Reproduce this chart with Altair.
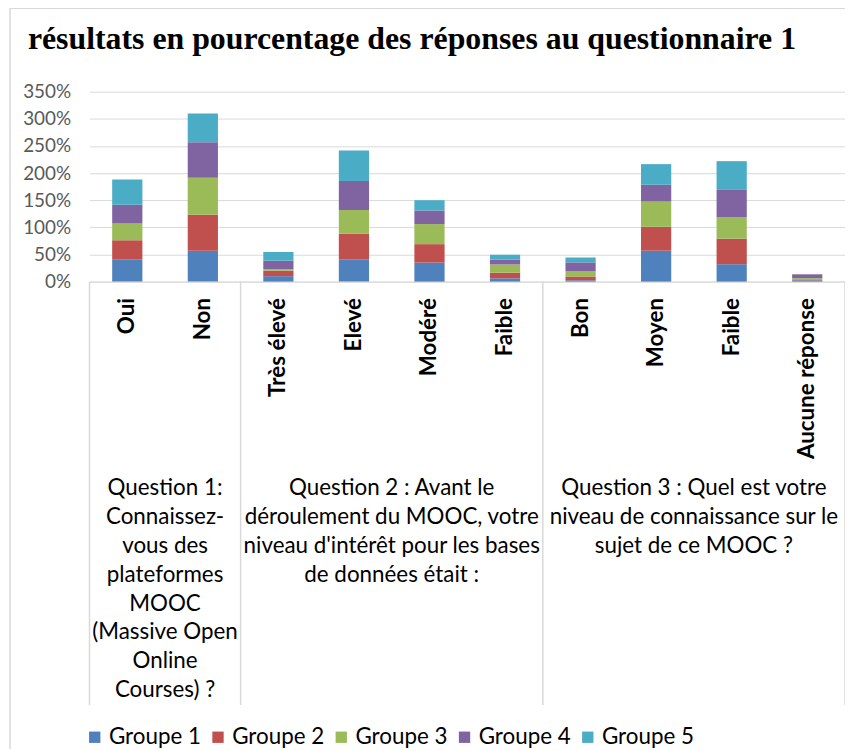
import altair as alt
import pandas as pd

# ---- data (percent values) ----
categories = ["Oui", "Non", "Très élevé", "Elevé", "Modéré", "Faible",
              "Bon", "Moyen", "Faible|3", "Aucune réponse"]
groups = ["Groupe 1", "Groupe 2", "Groupe 3", "Groupe 4", "Groupe 5"]
groupe1 = [41, 57, 10, 41, 35, 6, 2.4, 57, 32, 2.4]
groupe2 = [35, 66, 10, 47, 34, 10.5, 7, 44, 47, 0.5]
groupe3 = [31, 68.5, 3, 44, 37, 15, 10, 46.5, 40, 3.5]
groupe4 = [34.5, 65.5, 15.5, 53.5, 25, 9, 16, 31, 50, 7]
groupe5 = [46.5, 53, 16, 56, 19, 9, 9, 38, 53, 0]
colors = ["#4F81BD", "#C0504D", "#9BBB59", "#8064A2", "#4BACC6"]

question_anchor = ["Oui", "Elevé", "Moyen"]
question_text = [
    "Question 1:\nConnaissez-\nvous des\nplateformes\nMOOC\n(Massive Open\nOnline\nCourses) ?",
    "Question 2 : Avant le\ndéroulement du MOOC, votre\nniveau d'intérêt pour les bases\nde données était :",
    "Question 3 : Quel est votre\nniveau de connaissance sur le\nsujet de ce MOOC ?",
]
group_starts = ["Oui", "Très élevé", "Bon"]
last_category = ["Aucune réponse"]
title_text = "résultats en pourcentage des réponses au questionnaire 1"

rows = []
for gi, (g, vals) in enumerate(zip(groups, [groupe1, groupe2, groupe3, groupe4, groupe5])):
    for c, v in zip(categories, vals):
        rows.append({"cat": c, "grp": g, "gi": gi, "val": v})
df = pd.DataFrame(rows)

FONT = "Lato"
GRID = "#d9d9d9"
xscale = alt.Scale(type="band", domain=categories, paddingInner=0, paddingOuter=0)
xaxis = alt.Axis(labelAngle=270, labelAlign="right", labelBaseline="middle",
                 labelExpr="split(datum.label, '|')[0]",
                 labelFont=FONT, labelFontWeight="bold", labelFontSize=22.5,
                 labelColor="#000000", labelPadding=16, labelLimit=0,
                 labelOverlap=False, ticks=False, domainColor=GRID, domainWidth=1,
                 grid=False, title=None)

bars = alt.Chart(df).mark_bar(width=alt.RelativeBandSize(0.4)).encode(
    x=alt.X("cat:N", sort=categories, scale=xscale, axis=xaxis, title=None),
    y=alt.Y("val:Q", stack="zero", scale=alt.Scale(domain=[0, 350], nice=False),
            title=None,
            axis=alt.Axis(values=[0, 50, 100, 150, 200, 250, 300, 350],
                          labelExpr="datum.value + '%'", labelFont=FONT,
                          labelFontSize=19, labelColor="#595959", labelPadding=19,
                          ticks=False, domain=False, gridColor=GRID, gridWidth=1)),
    color=alt.Color("grp:N", scale=alt.Scale(domain=groups, range=colors),
                    legend=alt.Legend(title=None, orient="none", direction="horizontal",
                                      columns=5, legendX=-6, legendY=638,
                                      symbolType="square", symbolSize=130,
                                      symbolStrokeWidth=0, labelFont=FONT,
                                      labelFontSize=22.5, labelColor="#000000",
                                      labelOffset=3, columnPadding=5, padding=0)),
    order=alt.Order("gi:Q", sort="ascending"),
)

sep_df = pd.DataFrame({"cat": group_starts})
seps = alt.Chart(sep_df).mark_rule(color=GRID, strokeWidth=1.5).encode(
    x=alt.X("cat:N", bandPosition=0, scale=xscale, axis=xaxis),
    y=alt.value(191), y2=alt.value(617),
)
end_df = pd.DataFrame({"cat": last_category})
sep_end = alt.Chart(end_df).mark_rule(color=GRID, strokeWidth=1.5).encode(
    x=alt.X("cat:N", bandPosition=1, scale=xscale, axis=xaxis),
    y=alt.value(191), y2=alt.value(617),
)

q_df = pd.DataFrame({"cat": question_anchor, "label": question_text})
qtext = alt.Chart(q_df).mark_text(lineBreak="\n", lineHeight=29, font=FONT,
                                  fontSize=22.5, color="#000000", align="center",
                                  baseline="alphabetic").encode(
    x=alt.X("cat:N", bandPosition=1, scale=xscale, axis=xaxis),
    y=alt.value(406),
    text="label:N",
)

t_df = pd.DataFrame({"t": [title_text]})
title = alt.Chart(t_df).mark_text(font="Liberation Serif", fontWeight="bold",
                                  fontSize=32, color="#000000", align="left",
                                  baseline="alphabetic").encode(
    x=alt.value(-62), y=alt.value(-43), text="t:N")

border_top = alt.Chart(t_df).mark_rule(color=GRID, strokeWidth=1.5).encode(
    x=alt.value(-80), x2=alt.value(770), y=alt.value(-84))
border_left = alt.Chart(t_df).mark_rule(color=GRID, strokeWidth=1.5).encode(
    x=alt.value(-80), y=alt.value(-84), y2=alt.value(670))

chart = alt.layer(bars, seps, sep_end, qtext, title, border_top, border_left).properties(
    width=760, height=191,
    autosize=alt.AutoSizeParams(type="none"),
    padding={"left": 82, "top": 82, "right": 0, "bottom": 468},
).configure_view(stroke=None)

chart.save("out.html", embed_options={"renderer": "svg", "actions": False})
